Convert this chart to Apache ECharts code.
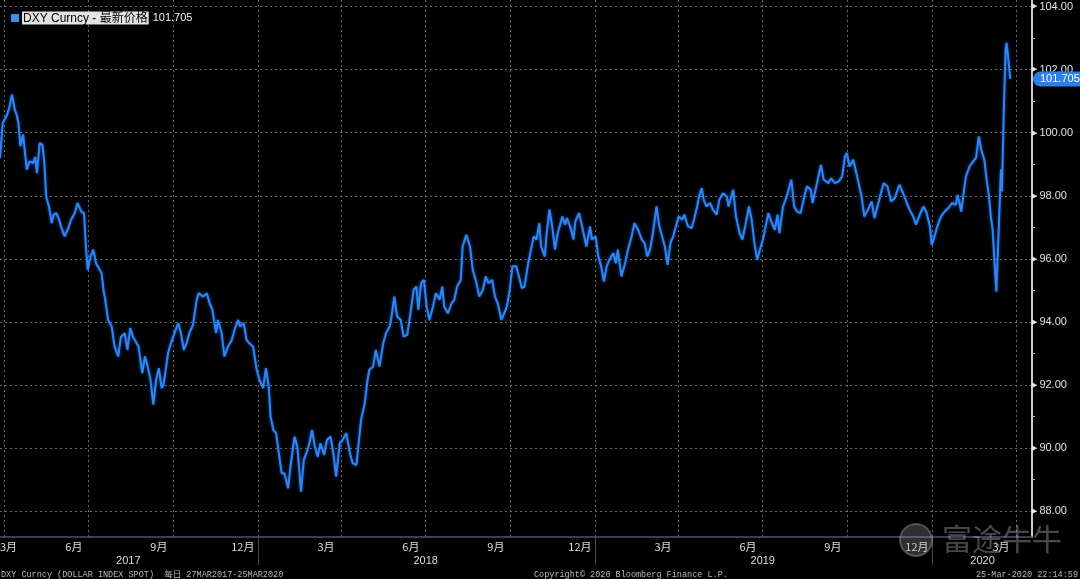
<!DOCTYPE html>
<html>
<head>
<meta charset="utf-8">
<script src="https://cdn.jsdelivr.net/npm/echarts@6/dist/echarts.min.js"></script>
<style>
html,body{margin:0;padding:0;background:#000;}
#c{width:1080px;height:579px;}
</style>
</head>
<body>
<div id="c"></div>
<script>
// ---- data ----
const startDate = '2017-03-27';           // first trading day shown
// days since startDate
const dayIndex = [0,3,7,10,13,16,18,20,22,25,26,29,32,36,38,40,43,46,48,50,53,56,58,61,64,66,70,74,77,81,84,88,91,93,95,98,101,104,106,110,112,114,117,121,124,128,131,135,138,141,144,148,150,154,157,160,163,166,169,172,175,177,179,182,185,189,193,196,199,202,205,209,213,215,220,224,227,230,234,236,240,243,247,251,254,258,260,264,267,270,274,278,281,285,288,291,293,296,299,302,305,308,312,315,319,322,326,329,333,335,338,341,344,347,351,354,358,361,364,368,371,375,379,382,386,388,391,395,398,400,404,407,411,415,418,422,424,427,430,434,437,441,445,448,451,453,456,459,462,465,469,472,476,479,481,485,489,492,495,499,501,505,509,512,516,519,523,526,529,533,536,539,543,546,549,552,555,559,563,565,568,572,575,578,581,584,586,590,592,595,598,601,604,609,612,614,618,621,623,627,630,632,635,639,641,645,648,651,654,657,660,664,667,669,673,677,680,684,687,691,695,698,701,704,707,711,714,717,720,723,726,729,732,735,739,741,745,749,752,755,757,760,762,765,769,772,776,779,783,787,789,794,797,801,804,807,811,814,817,820,823,827,832,836,839,842,844,848,852,855,857,860,863,867,871,874,878,880,884,889,892,897,900,904,908,912,915,917,920,924,926,929,933,936,940,944,947,953,957,961,965,969,974,978,982,985,989,992,996,1000,1003,1007,1009,1012,1015,1019,1023,1027,1031,1035,1037,1041,1044,1046,1050,1054,1057,1060,1063,1066,1068,1071,1073,1075,1077,1079,1081,1084,1085,1087,1089,1090,1092,1094];
const dxyValues = [99.20,100.31,100.52,100.78,101.21,100.73,100.57,100.31,99.57,99.94,99.99,98.83,99.09,99.04,99.23,98.72,99.67,99.62,99.04,97.98,97.66,97.13,97.40,97.45,97.24,97.03,96.71,96.97,97.24,97.45,97.77,97.50,97.45,96.39,95.65,96.07,96.29,95.86,95.76,95.55,95.02,94.70,94.06,93.85,93.22,92.90,93.53,93.64,93.11,93.80,93.53,93.32,93.22,92.37,92.90,92.58,92.16,91.37,92.16,92.53,91.90,92.00,92.37,93.01,93.32,93.64,93.96,93.64,93.11,93.32,93.64,93.90,94.70,94.91,94.80,94.91,94.59,94.38,93.64,94.06,93.64,92.90,93.22,93.43,93.75,94.06,93.85,93.96,93.43,93.32,93.22,92.48,92.16,91.90,92.53,91.95,91.00,90.57,90.47,89.83,89.20,89.20,88.72,89.51,90.36,90.04,88.61,89.62,89.94,90.15,90.57,90.04,89.72,90.15,89.78,90.25,90.36,89.83,89.09,90.15,90.25,90.47,89.83,89.51,89.46,90.04,90.89,91.42,92.16,92.48,92.58,93.11,92.58,93.32,93.64,93.85,94.17,94.80,94.17,94.06,93.53,93.59,94.38,95.02,95.12,94.38,95.23,95.33,94.49,94.06,94.49,94.91,94.70,95.12,94.49,94.27,94.59,94.70,95.12,95.33,96.39,96.76,96.39,95.65,95.23,94.80,95.02,95.44,95.23,95.33,94.80,94.59,94.06,94.27,94.49,95.02,95.76,95.76,95.33,95.07,95.12,95.86,96.29,96.71,96.61,97.13,96.39,96.07,96.81,97.56,97.03,96.29,96.81,97.34,97.08,97.29,96.97,96.61,97.19,97.45,97.08,97.03,96.39,97.03,96.61,96.71,96.07,95.76,95.28,95.76,95.97,96.18,95.86,96.29,95.44,95.86,96.29,96.71,97.13,96.92,96.61,96.50,96.07,96.29,96.81,97.66,97.03,96.71,96.39,95.81,96.50,96.71,97.03,97.34,97.24,97.40,97.03,96.97,97.29,97.66,97.98,98.24,97.87,97.66,97.77,97.56,97.40,97.87,98.08,97.98,97.66,98.19,97.34,96.81,96.61,97.03,97.66,97.24,96.50,95.97,96.29,96.71,97.45,97.13,96.92,97.40,96.81,97.66,97.98,98.30,98.51,97.66,97.50,97.45,97.98,98.30,98.19,97.77,98.30,98.98,98.51,98.40,98.56,98.40,98.45,98.61,99.25,99.36,98.93,99.14,99.09,98.51,97.98,97.34,97.56,97.82,97.29,97.98,98.40,98.30,97.82,97.93,98.35,98.08,97.77,97.56,97.34,97.08,97.40,97.66,97.50,97.03,96.44,96.71,97.03,97.34,97.50,97.61,97.77,97.71,98.03,97.50,98.19,98.61,98.93,99.09,99.20,99.88,99.41,99.14,98.61,97.98,97.34,96.92,95.86,94.96,96.50,98.83,98.14,100.63,102.63,102.85,102.32,101.705];
const lastPrice = 101.705;

const yTicks = [88,90,92,94,96,98,100,102,104];
const yMinorTicks = [89,91,93,95,97,99,101,103];
const monthLabelDates = ['2017-03-27','2017-06-15','2017-09-15','2017-12-15','2018-03-15','2018-06-15','2018-09-15','2018-12-15','2019-03-15','2019-06-15','2019-09-15','2019-12-15','2020-03-15'];
const quarterLineDates = ['2017-04-01','2017-07-01','2017-10-01','2018-01-01','2018-04-01','2018-07-01','2018-10-01','2019-01-01','2019-04-01','2019-07-01','2019-10-01','2020-01-01','2020-04-01'];
const yearLabelDates = ['2017-08-13','2018-07-01','2019-07-01','2020-02-24'];
const yearBoundaryDates = ['2018-01-01','2019-01-01','2020-01-01'];

// ---- helpers ----
function ts(s){ const p = s.split('-').map(Number); return Date.UTC(p[0], p[1]-1, p[2]); }
const DAY = 86400000;
const t0 = ts(startDate);
const seriesData = dayIndex.map((d,i) => [t0 + d*DAY, dxyValues[i]]);
const xMin = t0;
const xMax = Date.UTC(2020, 3, 17, 14);
const yMin = 87.175, yMax = 104.21;

const grid = '#6a6a6a';
const chart = echarts.init(document.getElementById('c'), null, {renderer:'canvas'});
const option = {
  backgroundColor: '#000000',
  animation: false,
  title: [
    { left: 11, top: 9, padding: 0,
      text: '{sq| }{sp| }{hl|DXY Curncy - 最新价格}{val|' + lastPrice.toFixed(3) + '}',
      textStyle: { fontWeight: 'normal', rich: {
        sq: { width: 8, height: 8, backgroundColor: '#3b8ef0' },
        sp: { width: 3 },
        hl: { backgroundColor: '#e3e3e3', color: '#000', fontSize: 12, fontWeight: 'normal', padding: [1,1,0,1], fontFamily: 'Liberation Sans, Noto Sans CJK SC' },
        val: { color: '#f0f0f0', fontSize: 11, fontWeight: 'normal', padding: [0,0,0,4], fontFamily: 'Liberation Sans' }
      } } },
    { left: 1, top: 570, padding: 0, text: 'DXY Curncy (DOLLAR INDEX SPOT)  每日 27MAR2017-25MAR2020',
      textStyle: { color: '#b8b8b8', fontSize: 8.5, fontWeight: 'normal', fontFamily: 'Liberation Mono, Noto Sans CJK SC' } },
    { left: 534, top: 570, padding: 0, text: 'Copyright© 2020 Bloomberg Finance L.P.',
      textStyle: { color: '#b8b8b8', fontSize: 8.5, fontWeight: 'normal', fontFamily: 'Liberation Mono' } },
    { right: 2, top: 570, padding: 0, text: '25-Mar-2020 22:14:59',
      textStyle: { color: '#b8b8b8', fontSize: 8.5, fontWeight: 'normal', fontFamily: 'Liberation Mono' } }
  ],
  graphic: [
    { type: 'circle', shape: { cx: 916, cy: 540, r: 16 }, style: { fill: 'rgba(170,170,170,0.28)', stroke: 'rgba(200,200,200,0.32)', lineWidth: 2 }, z: 100 },
    { type: 'text', left: 942, top: 524, style: { text: '富途牛牛', fill: 'rgba(190,190,190,0.38)', font: '30px "Noto Sans CJK SC"' }, z: 100 }
  ],
  grid: { left: 0, right: 48, top: 0, bottom: 42, containLabel: false, outerBoundsMode: 'none' },
  xAxis: [
    { type: 'value', min: xMin, max: xMax, position: 'bottom',
      axisLine: { show: true, onZero: false, lineStyle: { color: '#45557a', width: 1.5 } },
      axisTick: { show: false, customValues: quarterLineDates.map(ts) },
      splitLine: { show: true, lineStyle: { color: grid, type: [2,3], width: 1 } },
      axisLabel: { customValues: monthLabelDates.map(ts), margin: 4, color: '#dcdcdc', fontSize: 11,
        fontFamily: 'Noto Sans CJK SC', alignMinLabel: 'left',
        formatter: v => (new Date(v).getUTCMonth() + 1) + '月' } },
    { type: 'value', min: xMin, max: xMax, position: 'bottom',
      axisLine: { show: false, onZero: false },
      axisTick: { show: true, customValues: yearBoundaryDates.map(ts), length: 28, lineStyle: { color: '#4a4a4a', width: 1 } },
      splitLine: { show: false },
      axisLabel: { customValues: yearLabelDates.map(ts), margin: 18, color: '#dcdcdc', fontSize: 11,
        fontFamily: 'Liberation Sans',
        formatter: v => String(new Date(v).getUTCFullYear()) } }
  ],
  yAxis: [
    { type: 'value', position: 'right', min: yMin, max: yMax,
      axisLine: { show: true, lineStyle: { color: '#cacaca', width: 2 } },
      axisTick: { show: false, customValues: yTicks },
      splitLine: { show: true, lineStyle: { color: grid, type: [2,3], width: 1 } },
      axisLabel: { customValues: yTicks, margin: 0,
        formatter: v => '{t|▶}{v|' + Number(v).toFixed(2) + '}',
        rich: {
          t: { fontSize: 7, color: '#e8e8e8', fontFamily: 'DejaVu Sans', padding: [0,2,0,0] },
          v: { fontSize: 11, color: '#e0e0e0', fontFamily: 'Liberation Sans' }
        } } },
    { type: 'value', position: 'right', min: yMin, max: yMax,
      axisLine: { show: false },
      axisTick: { show: true, customValues: yMinorTicks, length: 3, lineStyle: { color: '#bdbdbd', width: 1 } },
      splitLine: { show: false },
      axisLabel: { show: false } },
    { type: 'value', position: 'right', min: yMin, max: yMax, z: 20,
      axisLine: { show: false },
      axisTick: { show: false },
      splitLine: { show: false },
      axisLabel: { customValues: [lastPrice], margin: 1,
        formatter: v => Number(v).toFixed(3),
        color: '#ffffff', fontSize: 11, fontFamily: 'Liberation Sans',
        backgroundColor: '#2c7fe6', padding: [2,3,2,7], borderRadius: [8,2,2,8] } }
  ],
  series: [
    { type: 'line', name: 'DXY Curncy', xAxisIndex: 0, yAxisIndex: 0, data: seriesData,
      showSymbol: false, symbol: 'none', z: 5,
      lineStyle: { color: '#2f86f2', width: 2, shadowBlur: 3, shadowColor: 'rgba(30,110,240,0.8)' } }
  ]
};
chart.setOption(option);
</script>
</body>
</html>
